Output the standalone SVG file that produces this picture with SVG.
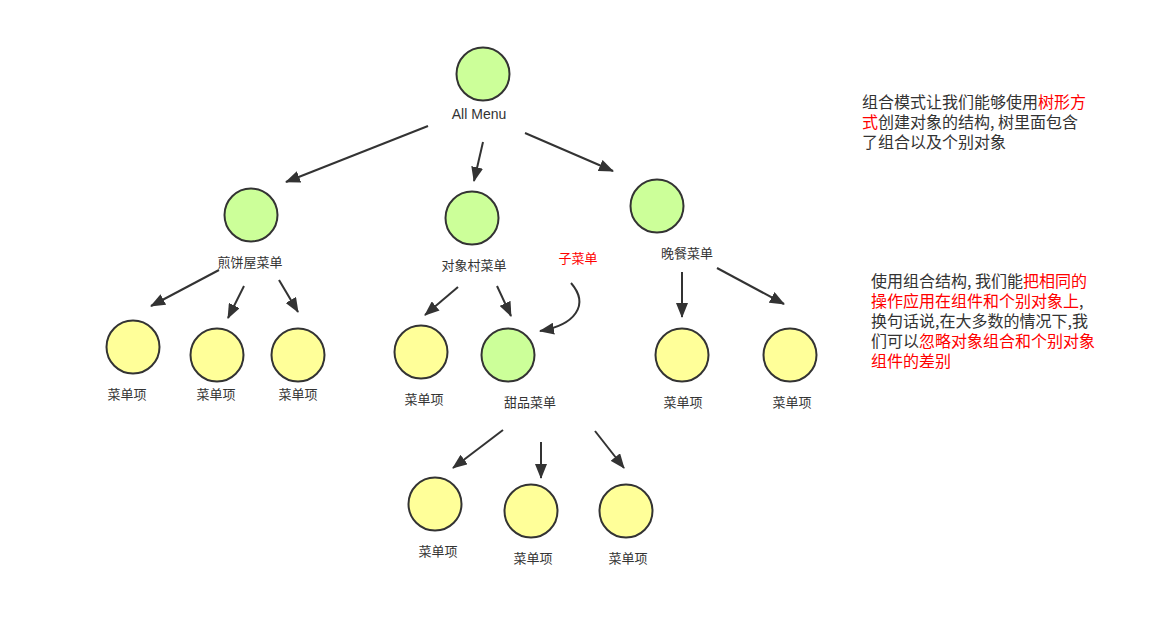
<svg xmlns="http://www.w3.org/2000/svg" width="1158" height="640" viewBox="0 0 1158 640">
<style>
.g{fill:#ccff99;stroke:#333;stroke-width:2}
.y{fill:#ffff99;stroke:#333;stroke-width:2}
.lb{font-family:"Liberation Sans","Noto Sans CJK SC",sans-serif;font-size:13px;fill:#333;text-anchor:middle}
.tx{font-family:"Noto Sans CJK SC",sans-serif;font-size:16px;fill:#333}
.r{fill:#ff0000}
.c path,.c line{stroke:#333;stroke-width:2;fill:none}
</style>
<defs>
<marker id="a" viewBox="0 0 15 12" refX="14" refY="6" markerWidth="15" markerHeight="12" markerUnits="userSpaceOnUse" orient="auto">
<path d="M0,0 L15,6 L0,12 z" fill="#333"/>
</marker>
</defs>
<rect width="1158" height="640" fill="#fff"/>
<g class="c">
<line x1="428" y1="126" x2="286" y2="182" marker-end="url(#a)"/>
<line x1="483" y1="142" x2="474" y2="181" marker-end="url(#a)"/>
<line x1="525" y1="133" x2="613" y2="171" marker-end="url(#a)"/>
<line x1="219" y1="270" x2="151" y2="306" marker-end="url(#a)"/>
<line x1="244" y1="286" x2="228" y2="318" marker-end="url(#a)"/>
<line x1="279" y1="280" x2="298" y2="312" marker-end="url(#a)"/>
<line x1="458" y1="287" x2="425" y2="315" marker-end="url(#a)"/>
<line x1="497" y1="286" x2="511" y2="316" marker-end="url(#a)"/>
<path d="M571,283 C590,305 575,325 540,331" marker-end="url(#a)"/>
<line x1="682" y1="272" x2="682" y2="317" marker-end="url(#a)"/>
<line x1="717" y1="268" x2="784" y2="304" marker-end="url(#a)"/>
<line x1="503" y1="430" x2="453" y2="468" marker-end="url(#a)"/>
<line x1="541" y1="442" x2="541" y2="478" marker-end="url(#a)"/>
<line x1="595" y1="431" x2="624" y2="468" marker-end="url(#a)"/>
</g>
<g id="root"><circle class="g" cx="483" cy="74" r="26.5"/><text class="lb" x="479" y="119" style="font-size:14px">All Menu</text></g>
<g id="pancake"><circle class="g" cx="251" cy="215" r="26.5"/><text class="lb" x="250" y="267">煎饼屋菜单</text></g>
<g id="diner"><circle class="g" cx="472" cy="218" r="26.5"/><text class="lb" x="474" y="270">对象村菜单</text></g>
<g id="cafe"><circle class="g" cx="657" cy="206" r="26.5"/><text class="lb" x="687" y="258">晚餐菜单</text></g>
<g id="sublabel"><text class="lb" x="578" y="263" style="fill:#ff0000">子菜单</text></g>
<g id="p1"><circle class="y" cx="133" cy="347" r="26.5"/><text class="lb" x="127" y="399">菜单项</text></g>
<g id="p2"><circle class="y" cx="217" cy="355" r="26.5"/><text class="lb" x="216" y="399">菜单项</text></g>
<g id="p3"><circle class="y" cx="298" cy="355" r="26.5"/><text class="lb" x="298" y="399">菜单项</text></g>
<g id="d1"><circle class="y" cx="421" cy="352" r="26.5"/><text class="lb" x="424" y="404">菜单项</text></g>
<g id="dessert"><circle class="g" cx="508" cy="355" r="26.5"/><text class="lb" x="530" y="407">甜品菜单</text></g>
<g id="c1"><circle class="y" cx="682" cy="355" r="26.5"/><text class="lb" x="683" y="407">菜单项</text></g>
<g id="c2"><circle class="y" cx="790" cy="355" r="26.5"/><text class="lb" x="792" y="407">菜单项</text></g>
<g id="s1"><circle class="y" cx="435" cy="504" r="26.5"/><text class="lb" x="438" y="556">菜单项</text></g>
<g id="s2"><circle class="y" cx="531" cy="511" r="26.5"/><text class="lb" x="533" y="563">菜单项</text></g>
<g id="s3"><circle class="y" cx="626" cy="511" r="26.5"/><text class="lb" x="628" y="563">菜单项</text></g>
<g id="note1" class="tx">
<text x="862" y="108">组合模式让我们能够使用<tspan class="r">树形方</tspan></text>
<text x="862" y="128"><tspan class="r">式</tspan>创建对象的结构, 树里面包含</text>
<text x="862" y="148">了组合以及个别对象</text>
</g>
<g id="note2" class="tx">
<text x="871" y="287">使用组合结构, 我们能<tspan class="r">把相同的</tspan></text>
<text x="871" y="307"><tspan class="r">操作应用在组件和个别对象上</tspan>,</text>
<text x="871" y="327">换句话说,在大多数的情况下,我</text>
<text x="871" y="347">们可以<tspan class="r">忽略对象组合和个别对象</tspan></text>
<text x="871" y="367"><tspan class="r">组件的差别</tspan></text>
</g>
</svg>
